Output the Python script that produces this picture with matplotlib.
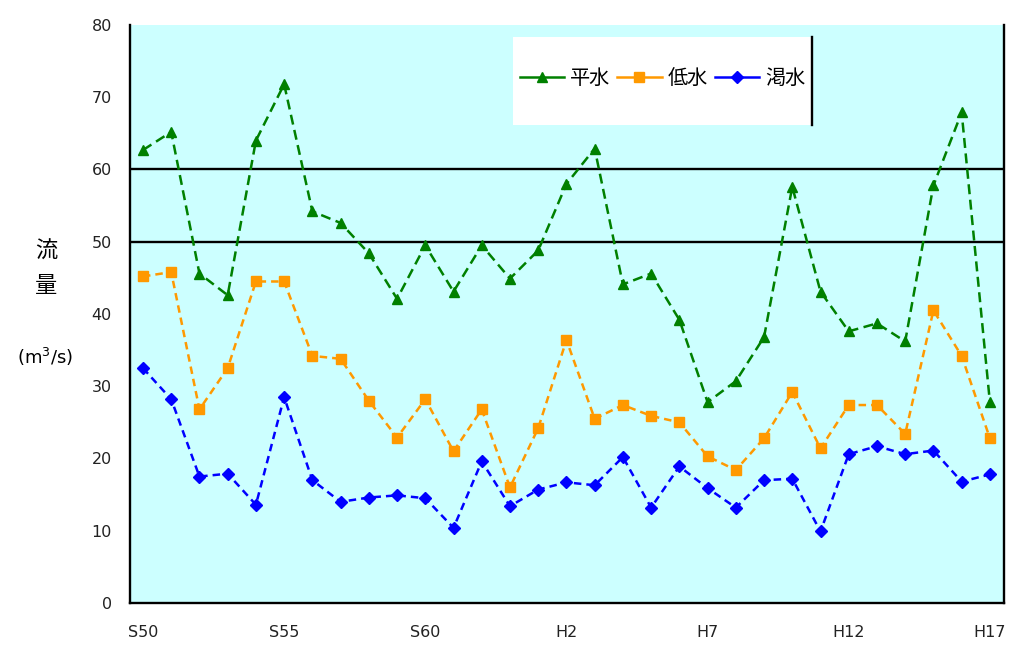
import matplotlib
matplotlib.use("Agg")
import matplotlib.pyplot as plt
from matplotlib.lines import Line2D
from matplotlib.patches import Rectangle

plt.rcParams['font.family'] = ['Noto Sans CJK JP', 'DejaVu Sans']

years = list(range(31))  # S50 (1975) .. H17 (2005)
tick_pos = [0, 5, 10, 15, 20, 25, 30]
tick_labels = ["S50", "S55", "S60", "H2", "H7", "H12", "H17"]

heisui = [62.7, 65.2, 45.6, 42.6, 64.0, 71.8, 54.2, 52.6, 48.4, 42.1,
          49.5, 43.1, 49.5, 44.9, 48.8, 58.0, 62.9, 44.1, 45.6, 39.2,
          27.8, 30.7, 36.8, 57.6, 43.1, 37.6, 38.7, 36.2, 57.8, 67.9, 27.8]
teisui = [45.2, 45.8, 26.8, 32.5, 44.5, 44.5, 34.2, 33.8, 28.0, 22.9,
          28.2, 21.0, 26.8, 16.0, 24.2, 36.4, 25.5, 27.4, 25.9, 25.0,
          20.3, 18.4, 22.8, 29.2, 21.4, 27.4, 27.4, 23.4, 40.5, 34.2, 22.8]
kassui = [32.5, 28.2, 17.5, 17.9, 13.6, 28.5, 17.0, 14.0, 14.6, 14.9,
          14.5, 10.4, 19.6, 13.4, 15.7, 16.7, 16.3, 20.2, 13.2, 18.9,
          15.9, 13.2, 17.0, 17.2, 9.9, 20.6, 21.7, 20.6, 21.1, 16.8, 17.8]
ref_lines = [50, 60]

c_green = "#008000"
c_orange = "#FF9900"
c_blue = "#0000FF"

fig = plt.figure(figsize=(10.1, 6.48), dpi=100)
ax = fig.add_axes([130/1010, 1-603/648, 874/1010, 578/648])
ax.set_facecolor("#CCFFFF")

for v in ref_lines:
    ax.axhline(v, color="black", lw=1.7, zorder=1)

ax.plot(years, heisui, color=c_green, lw=1.8, ls=(0, (4, 2.2)), marker="^", ms=7.5, zorder=3)
ax.plot(years, teisui, color=c_orange, lw=1.8, ls=(0, (3, 2)), marker="s", ms=7.5, zorder=3)
ax.plot(years, kassui, color=c_blue, lw=1.8, ls=(0, (3, 2)), marker="D", ms=6, zorder=3)

ax.set_xlim(-0.46, 30.5)
ax.set_ylim(0, 80)
ax.set_yticks(range(0, 81, 10))
ax.set_xticks(tick_pos)
ax.set_xticklabels(tick_labels)
ax.tick_params(axis="y", length=0, pad=13, labelsize=11.5, colors="#222222")
ax.tick_params(axis="x", length=0, pad=16, labelsize=11.5, colors="#222222")
for lab in ax.get_xticklabels() + ax.get_yticklabels():
    lab.set_family("DejaVu Sans")
ax.spines["top"].set_visible(False)
for s in ["left", "right", "bottom"]:
    ax.spines[s].set_linewidth(1.7)
    ax.spines[s].set_color("black")

# legend box
x0, x1 = (513-130)/874, (812-130)/874
y0, y1 = (603-125)/578, (603-37)/578
ax.add_patch(Rectangle((x0, y0), x1-x0, y1-y0, transform=ax.transAxes,
                       facecolor="white", edgecolor="none", zorder=4))
ax.plot([x1, x1], [y0, y1], transform=ax.transAxes, color="black", lw=1.7, zorder=5)
handles = [
    Line2D([], [], color=c_green, lw=1.8, marker="^", ms=7.5),
    Line2D([], [], color=c_orange, lw=1.8, marker="s", ms=7.5),
    Line2D([], [], color=c_blue, lw=1.8, marker="D", ms=6),
]
leg = ax.legend(handles, ["平水", "低水", "渇水"], ncol=3, frameon=False,
                loc="center", bbox_to_anchor=((x0+x1)/2, (y0+y1)/2 + 0.005),
                fontsize=14.5, handlelength=2.2, handletextpad=0.3,
                columnspacing=0.35, borderpad=0, borderaxespad=0)
leg.set_zorder(6)

fig.text(46/1010, 1-251/648, "流", fontsize=16, ha="center", va="center")
fig.text(46/1010, 1-286/648, "量", fontsize=16, ha="center", va="center")
fig.text(45/1010, 1-357/648, "(m$^3$/s)", fontsize=13, ha="center", va="center",
         family="DejaVu Sans")

fig.savefig("out.png", dpi=100)
